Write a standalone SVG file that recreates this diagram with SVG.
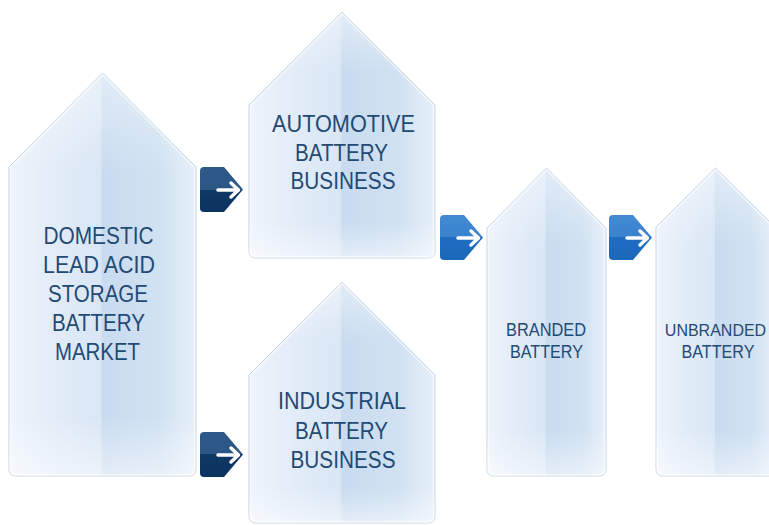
<svg xmlns="http://www.w3.org/2000/svg" width="769" height="525" viewBox="0 0 769 525">
  <defs>
    <!-- two-tone glassy fill: light left half, deeper right half -->
    <linearGradient id="houseFill" x1="0" y1="0" x2="1" y2="0">
      <stop offset="0" stop-color="#eef4fb"/>
      <stop offset="0.2" stop-color="#e4edf8"/>
      <stop offset="0.49" stop-color="#d9e6f5"/>
      <stop offset="0.5" stop-color="#c9dbef"/>
      <stop offset="0.8" stop-color="#d0e1f2"/>
      <stop offset="1" stop-color="#e6eff9"/>
    </linearGradient>
    <linearGradient id="houseSheen" x1="0" y1="0" x2="0" y2="1">
      <stop offset="0" stop-color="#ffffff" stop-opacity="0.45"/>
      <stop offset="0.25" stop-color="#ffffff" stop-opacity="0"/>
      <stop offset="0.85" stop-color="#ffffff" stop-opacity="0"/>
      <stop offset="1" stop-color="#ffffff" stop-opacity="0.5"/>
    </linearGradient>
    <linearGradient id="tagDark" x1="0" y1="0" x2="0" y2="1">
      <stop offset="0" stop-color="#2e5a8a"/>
      <stop offset="0.5" stop-color="#2a5585"/>
      <stop offset="0.5" stop-color="#0f3865"/>
      <stop offset="1" stop-color="#0c3360"/>
    </linearGradient>
    <linearGradient id="tagLight" x1="0" y1="0" x2="0" y2="1">
      <stop offset="0" stop-color="#438ad3"/>
      <stop offset="0.5" stop-color="#3b82cd"/>
      <stop offset="0.5" stop-color="#1f6dc1"/>
      <stop offset="1" stop-color="#1c68bb"/>
    </linearGradient>
    <!-- arrow tag: rounded box with a chevron nose and a white arrow -->
    <g id="tagShape">
      <path d="M4,0 H24 L43,22.5 L24,45 H4 Q0,45 0,41 V4 Q0,0 4,0 Z"/>
    </g>
    <g id="tagArrow" fill="none" stroke="#ffffff" stroke-width="3.5" stroke-linecap="round" stroke-linejoin="round">
      <path d="M18,23 H38 M31,16 L38.5,23 L31,30"/>
    </g>
  </defs>
  <style>
    .house { fill: url(#houseFill); stroke: #c6d3e1; stroke-width: 1; }
    .sheen { fill: url(#houseSheen); stroke: none; }
    .edge { fill: none; stroke: #ffffff; stroke-opacity: 0.6; stroke-width: 1.5; }
    .big { font-family: "Liberation Sans", Arial, sans-serif; font-size: 23px; fill: #234a74; text-anchor: middle; }
    .small { font-family: "Liberation Sans", Arial, sans-serif; font-size: 18.5px; fill: #234a74; text-anchor: middle; }
  </style>

  <rect width="769" height="525" fill="#ffffff"/>

  <g id="domestic-market">
    <path class="house" d="M9,167 L102.5,73 L196,167 V469 Q196,476 189,476 H16 Q9,476 9,469 Z"/>
    <path class="sheen" d="M9,167 L102.5,73 L196,167 V469 Q196,476 189,476 H16 Q9,476 9,469 Z"/>
    <path class="edge" d="M10.5,167.5 L102.5,75 L194.5,167.5 V469 Q194.5,474.5 189,474.5 H16 Q10.5,474.5 10.5,469 Z"/>
    <text class="big" x="98.5" y="244" textLength="110" lengthAdjust="spacingAndGlyphs">DOMESTIC</text>
    <text class="big" x="99" y="273" textLength="112" lengthAdjust="spacingAndGlyphs">LEAD ACID</text>
    <text class="big" x="98" y="302" textLength="100" lengthAdjust="spacingAndGlyphs">STORAGE</text>
    <text class="big" x="98.5" y="331" textLength="93" lengthAdjust="spacingAndGlyphs">BATTERY</text>
    <text class="big" x="97.5" y="360" textLength="85" lengthAdjust="spacingAndGlyphs">MARKET</text>
  </g>

  <g id="automotive-business">
    <path class="house" d="M249,105 L342,12 L435,105 V251 Q435,258 428,258 H256 Q249,258 249,251 Z"/>
    <path class="sheen" d="M249,105 L342,12 L435,105 V251 Q435,258 428,258 H256 Q249,258 249,251 Z"/>
    <path class="edge" d="M250.5,105.5 L342,14 L433.5,105.5 V251 Q433.5,256.5 428,256.5 H256 Q250.5,256.5 250.5,251 Z"/>
    <text class="big" x="343.5" y="132" textLength="143" lengthAdjust="spacingAndGlyphs">AUTOMOTIVE</text>
    <text class="big" x="341.5" y="160.5" textLength="93" lengthAdjust="spacingAndGlyphs">BATTERY</text>
    <text class="big" x="343" y="189" textLength="105" lengthAdjust="spacingAndGlyphs">BUSINESS</text>
  </g>

  <g id="industrial-business">
    <path class="house" d="M249,375 L342,282 L435,375 V516 Q435,523 428,523 H256 Q249,523 249,516 Z"/>
    <path class="sheen" d="M249,375 L342,282 L435,375 V516 Q435,523 428,523 H256 Q249,523 249,516 Z"/>
    <path class="edge" d="M250.5,375.5 L342,284 L433.5,375.5 V516 Q433.5,521.5 428,521.5 H256 Q250.5,521.5 250.5,516 Z"/>
    <text class="big" x="342" y="409" textLength="128" lengthAdjust="spacingAndGlyphs">INDUSTRIAL</text>
    <text class="big" x="341.5" y="438.5" textLength="93" lengthAdjust="spacingAndGlyphs">BATTERY</text>
    <text class="big" x="343" y="467.5" textLength="105" lengthAdjust="spacingAndGlyphs">BUSINESS</text>
  </g>

  <g id="branded-battery">
    <path class="house" d="M487,228 L546.5,168 L606,228 V469 Q606,476 599,476 H494 Q487,476 487,469 Z"/>
    <path class="sheen" d="M487,228 L546.5,168 L606,228 V469 Q606,476 599,476 H494 Q487,476 487,469 Z"/>
    <path class="edge" d="M488.5,228.5 L546.5,170 L604.5,228.5 V469 Q604.5,474.5 599,474.5 H494 Q488.5,474.5 488.5,469 Z"/>
    <text class="small" x="546" y="336" textLength="80" lengthAdjust="spacingAndGlyphs">BRANDED</text>
    <text class="small" x="546.5" y="358" textLength="73" lengthAdjust="spacingAndGlyphs">BATTERY</text>
  </g>

  <g id="unbranded-battery">
    <path class="house" d="M656,227 L715.5,168 L775,227 V469 Q775,476 768,476 H663 Q656,476 656,469 Z"/>
    <path class="sheen" d="M656,227 L715.5,168 L775,227 V469 Q775,476 768,476 H663 Q656,476 656,469 Z"/>
    <path class="edge" d="M657.5,227.5 L715.5,170 L773.5,227.5 V469 Q773.5,474.5 768,474.5 H663 Q657.5,474.5 657.5,469 Z"/>
    <text class="small" x="715.5" y="336" style="font-size:16px">UNBRANDED</text>
    <text class="small" x="718" y="358" textLength="73" lengthAdjust="spacingAndGlyphs">BATTERY</text>
  </g>

  <g id="connectors">
    <g transform="translate(200,167)">
      <use href="#tagShape" fill="url(#tagDark)"/>
      <use href="#tagArrow"/>
    </g>
    <g transform="translate(200,432)">
      <use href="#tagShape" fill="url(#tagDark)"/>
      <use href="#tagArrow"/>
    </g>
    <g transform="translate(440,215)">
      <use href="#tagShape" fill="url(#tagLight)"/>
      <use href="#tagArrow"/>
    </g>
    <g transform="translate(609,215)">
      <use href="#tagShape" fill="url(#tagLight)"/>
      <use href="#tagArrow"/>
    </g>
  </g>
</svg>
